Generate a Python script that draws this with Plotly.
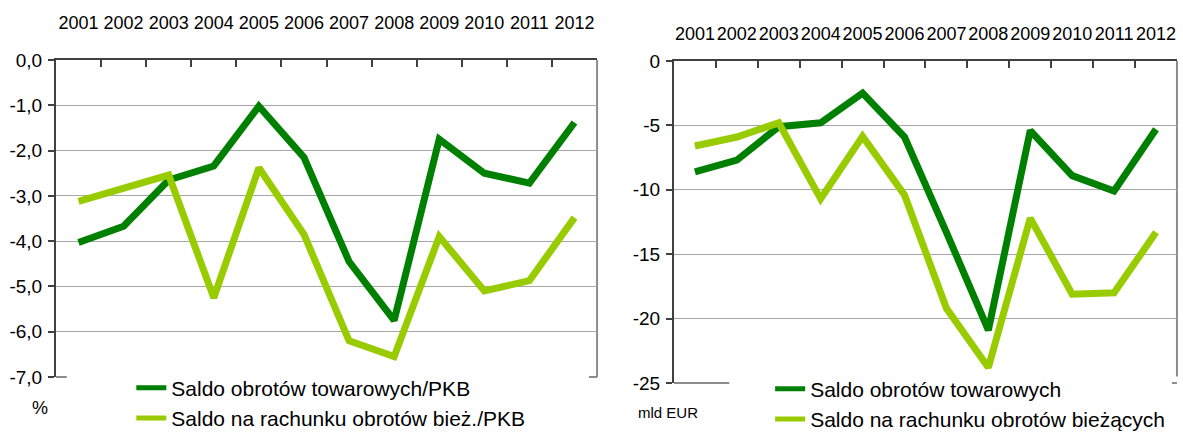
import plotly.graph_objects as go

years = ["2001", "2002", "2003", "2004", "2005", "2006", "2007", "2008", "2009", "2010", "2011", "2012"]

# Left panel: % of GDP
towar_pkb = [-4.03, -3.67, -2.65, -2.34, -1.02, -2.15, -4.45, -5.75, -1.75, -2.50, -2.72, -1.38]
biez_pkb = [-3.12, -2.83, -2.54, -5.25, -2.38, -3.85, -6.20, -6.55, -3.90, -5.10, -4.87, -3.48]

# Right panel: bn EUR
towar_eur = [-8.6, -7.7, -5.1, -4.8, -2.5, -5.9, -13.3, -20.9, -5.4, -8.9, -10.1, -5.3]
biez_eur = [-6.6, -5.9, -4.8, -10.7, -5.85, -10.4, -19.2, -23.8, -12.2, -18.1, -18.0, -13.3]

left_ticks = [0, -1, -2, -3, -4, -5, -6, -7]
left_ticktext = ["0,0", "-1,0", "-2,0", "-3,0", "-4,0", "-5,0", "-6,0", "-7,0"]
right_ticks = [0, -5, -10, -15, -20, -25]
right_ticktext = ["0", "-5", "-10", "-15", "-20", "-25"]

names_left = ["Saldo obrotów towarowych/PKB", "Saldo na rachunku obrotów bież./PKB"]
names_right = ["Saldo obrotów towarowych", "Saldo na rachunku obrotów bieżących"]

DARK = "#008000"
LIGHT = "#99CC00"
AXIS_DARK = "#404040"
AXIS_GRAY = "#8c8c8c"
FONT = "Liberation Sans, Arial, sans-serif"

fig = go.Figure()
fig.add_trace(go.Scatter(x=years, y=towar_pkb, mode="lines", name=names_left[0],
                         line=dict(color=DARK, width=7), xaxis="x", yaxis="y", legend="legend"))
fig.add_trace(go.Scatter(x=years, y=biez_pkb, mode="lines", name=names_left[1],
                         line=dict(color=LIGHT, width=7), xaxis="x", yaxis="y", legend="legend"))
fig.add_trace(go.Scatter(x=years, y=towar_eur, mode="lines", name=names_right[0],
                         line=dict(color=DARK, width=7), xaxis="x2", yaxis="y2", legend="legend2"))
fig.add_trace(go.Scatter(x=years, y=biez_eur, mode="lines", name=names_right[1],
                         line=dict(color=LIGHT, width=7), xaxis="x2", yaxis="y2", legend="legend2"))

ncat = len(years)
xcommon = dict(type="category", side="top", tickson="boundaries", ticks="inside", ticklen=7,
               tickcolor=AXIS_DARK, tickwidth=1.5, showline=True, linecolor=AXIS_DARK, linewidth=2,
               mirror=False, showgrid=False, tickangle=0, automargin=False,
               range=[-0.5, ncat - 0.5],
               tickfont=dict(family=FONT, size=18, color="#000000"), fixedrange=True)
ycommon = dict(showline=True, linecolor=AXIS_DARK, linewidth=2, ticks="outside", ticklen=6,
               tickcolor=AXIS_DARK, tickwidth=1.5, showgrid=True, gridcolor="#a6a6a6", gridwidth=1,
               zeroline=False, mirror=False, automargin=False,
               tickfont=dict(family=FONT, size=19, color="#000000"),
               ticklabelstandoff=2, fixedrange=True)

fig.update_layout(
    width=1183, height=432,
    margin=dict(l=0, r=0, t=0, b=0, autoexpand=False),
    paper_bgcolor="white", plot_bgcolor="white",
    font=dict(family=FONT, color="#000000"),
    xaxis=dict(**xcommon, domain=[0.0473, 0.5047], anchor="y", ticklabelstandoff=22),
    yaxis=dict(**ycommon, domain=[0.1273, 0.8611], range=[-7, 0], tickvals=left_ticks,
               ticktext=left_ticktext, anchor="x"),
    xaxis2=dict(**xcommon, domain=[0.5697, 0.9949], anchor="y2", ticklabelstandoff=12),
    yaxis2=dict(**ycommon, domain=[0.1134, 0.8588], range=[-25, 0], tickvals=right_ticks,
                ticktext=right_ticktext, anchor="x2"),
    legend=dict(x=0.111, y=0.149, xanchor="left", yanchor="top", bgcolor="rgba(0,0,0,0)",
                font=dict(family=FONT, size=21, color="#000000"), tracegroupgap=0,
                itemsizing="constant"),
    legend2=dict(x=0.651, y=0.147, xanchor="left", yanchor="top", bgcolor="rgba(0,0,0,0)",
                 font=dict(family=FONT, size=21, color="#000000"), tracegroupgap=0,
                 itemsizing="constant"),
    showlegend=True,
)

# frame pieces (right border and the visible ends of the bottom border)
for xr, yr, bl, br, top_cut in [("x", "y", 0.02, 0.985, 0.0), ("x2", "y2", 0.11, 0.99, 0.02)]:
    fig.add_shape(type="line", xref=f"{xr} domain", yref=f"{yr} domain", x0=1, x1=1,
                  y0=top_cut, y1=1, line=dict(color=AXIS_GRAY, width=2), layer="below")
    fig.add_shape(type="line", xref=f"{xr} domain", yref=f"{yr} domain", x0=0, x1=bl,
                  y0=0, y1=0, line=dict(color=AXIS_GRAY, width=2), layer="below")
    fig.add_shape(type="line", xref=f"{xr} domain", yref=f"{yr} domain", x0=br, x1=1,
                  y0=0, y1=0, line=dict(color=AXIS_GRAY, width=2), layer="below")

fig.add_annotation(text="%", x=30 / 1183, y=1 - 420 / 432, xref="paper", yref="paper",
                   showarrow=False, font=dict(family=FONT, size=18, color="#000000"))
fig.add_annotation(text="mld EUR", x=668 / 1183, y=1 - 423 / 432, xref="paper", yref="paper",
                   showarrow=False, font=dict(family=FONT, size=15, color="#000000"))

fig.write_html("out.html", config={"displayModeBar": False},
               post_script="document.body.style.margin='0px';document.body.style.overflow='hidden';")
